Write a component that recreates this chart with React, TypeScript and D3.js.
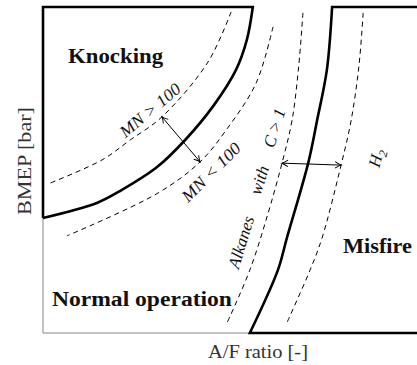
import React from "react";
import * as d3 from "d3";

// Operating-map boundaries, A/F ratio (x) vs BMEP (y), both in arbitrary units 0..10
const knockX = [5.61, 5.45, 5.16, 4.57, 3.8, 3.05, 2.11, 1.44, 0.0];
const knockY = [10.0, 8.99, 8.07, 6.99, 5.92, 5.09, 4.39, 3.99, 3.53];

const mnHighX = [5.03, 4.41, 3.18, 2.33, 1.58, 0.13];
const mnHighY = [9.85, 8.31, 6.63, 5.92, 5.31, 4.57];

const mnLowX = [6.15, 5.70, 4.90, 4.20, 3.07, 0.64];
const mnLowY = [9.39, 7.67, 6.23, 5.25, 4.29, 2.98];

const alkX = [6.95, 6.84, 6.66, 6.39, 6.02, 5.53, 4.92];
const alkY = [9.82, 8.22, 6.53, 5.21, 3.68, 1.93, 0.31];

const misX = [7.73, 7.59, 7.33, 7.09, 6.52, 6.28, 5.53];
const misY = [10.0, 8.07, 6.53, 5.21, 2.91, 1.93, 0.0];

const h2X = [8.56, 8.45, 8.24, 7.97, 7.46, 7.14, 6.52];
const h2Y = [9.82, 8.22, 6.53, 5.15, 2.91, 1.93, 0.31];

// Double arrows: [x1, y1, x2, y2]
const mnArrow = [3.18, 6.63, 4.2, 5.25];
const fuelArrow = [6.39, 5.21, 7.97, 5.15];

const regionLabels = ["Knocking", "Normal operation", "Misfire"];
const regionX = [0.67, 0.24, 8.02];
const regionY = [8.28, 0.83, 2.45];
const regionLen = [95, 180, 69];

const W = 417;
const H = 365;
const left = 43;
const top = 7;
const bottom = 333;

const x = d3.scaleLinear().domain([0, 10]).range([left, left + 374]);
const y = d3.scaleLinear().domain([0, 10]).range([bottom, top]);

const zip = (xs: number[], ys: number[]) => xs.map((v, i) => [v, ys[i]] as [number, number]);

const curve = d3
  .line<[number, number]>()
  .x((d) => x(d[0]))
  .y((d) => y(d[1]))
  .curve(d3.curveCatmullRom.alpha(0.5));

const serif = "'Liberation Serif', 'Times New Roman', serif";

export default function App() {
  const knockPts = zip(knockX, knockY);
  const misPts = zip(misX, misY);

  // Knocking region: left edge, top edge, then the boundary curve back down
  const knockPath =
    `M${x(0)},${y(knockY[knockY.length - 1])} L${x(0)},${y(10)} L${x(knockX[0])},${y(10)} ` +
    (curve(knockPts) || "").replace(/^M/, "L");

  // Misfire region: top edge from the right, boundary curve, bottom edge to the right
  const misPath =
    `M${W},${y(10)} L${x(misX[0])},${y(10)} ` +
    (curve(misPts) || "").replace(/^M/, "L") +
    ` L${W},${y(0)}`;

  const dashed = [zip(mnHighX, mnHighY), zip(mnLowX, mnLowY), zip(alkX, alkY), zip(h2X, h2Y)];

  const arrow = (a: number[], key: string) => (
    <line
      key={key}
      x1={x(a[0])}
      y1={y(a[1])}
      x2={x(a[2])}
      y2={y(a[3])}
      stroke="#000"
      strokeWidth={1}
      markerStart="url(#head)"
      markerEnd="url(#head)"
    />
  );

  return (
    <svg
      width={W}
      height={H}
      style={{ position: "absolute", left: 0, top: 0, background: "#fff" }}
    >
      <defs>
        <marker
          id="head"
          viewBox="-8 -5 10 10"
          refX={0}
          refY={0}
          markerWidth={10}
          markerHeight={10}
          markerUnits="userSpaceOnUse"
          orient="auto-start-reverse"
        >
          <path d="M-6,-3.2 Q-2,-0.6 0,0 Q-2,0.6 -6,3.2" fill="none" stroke="#000" strokeWidth={1} />
        </marker>
      </defs>

      {/* axes */}
      <line x1={left} y1={top} x2={left} y2={bottom} stroke="#999" strokeWidth={1.2} />
      <line x1={left} y1={bottom} x2={W} y2={bottom} stroke="#888" strokeWidth={1.2} />

      {/* dashed boundaries */}
      {dashed.map((pts, i) => (
        <path
          key={i}
          d={curve(pts) || ""}
          fill="none"
          stroke="#000"
          strokeWidth={1}
          strokeDasharray="5,4"
        />
      ))}

      {/* region boundaries */}
      <path d={knockPath} fill="none" stroke="#000" strokeWidth={2.6} strokeLinejoin="miter" />
      <path d={misPath} fill="none" stroke="#000" strokeWidth={2.6} strokeLinejoin="miter" />

      {arrow(mnArrow, "mn")}
      {arrow(fuelArrow, "fuel")}

      {/* region names */}
      {regionLabels.map((t, i) => (
        <text
          key={t}
          x={x(regionX[i])}
          y={y(regionY[i])}
          fontFamily={serif}
          fontWeight="bold"
          fontSize={20}
          textLength={regionLen[i]}
          lengthAdjust="spacingAndGlyphs"
          fill="#111"
        >
          {t}
        </text>
      ))}

      {/* curve annotations */}
      <g fontFamily={serif} fontStyle="italic" fontSize={17} fill="#111">
        <text
          transform={`translate(${x(2.86)},${y(6.84)}) rotate(-40)`}
          textAnchor="middle"
          dy="0.35em"
          textLength={74}
          lengthAdjust="spacingAndGlyphs"
        >
          MN &gt; 100
        </text>
        <text
          transform={`translate(${x(4.49)},${y(4.94)}) rotate(-45)`}
          textAnchor="middle"
          dy="0.35em"
          textLength={76}
          lengthAdjust="spacingAndGlyphs"
        >
          MN &lt; 100
        </text>
        <text transform={`translate(${x(5.29)},${y(2.79)}) rotate(-73)`} textAnchor="middle" dy="0.35em">
          Alkanes
        </text>
        <text transform={`translate(${x(5.78)},${y(4.69)}) rotate(-73)`} textAnchor="middle" dy="0.35em">
          with
        </text>
        <text transform={`translate(${x(6.18)},${y(6.29)}) rotate(-73)`} textAnchor="middle" dy="0.35em">
          C &gt; 1
        </text>
        <text transform={`translate(${x(8.9)},${y(5.37)}) rotate(-75)`} textAnchor="middle" dy="0.35em">
          H<tspan fontSize={12} dy="4">2</tspan>
        </text>
      </g>

      {/* axis titles */}
      <text
        x={258}
        y={358}
        textAnchor="middle"
        fontFamily={serif}
        fontSize={19}
        textLength={100}
        lengthAdjust="spacingAndGlyphs"
        fill="#333"
      >
        A/F ratio [-]
      </text>
      <text
        transform="translate(31,161) rotate(-90)"
        textAnchor="middle"
        fontFamily={serif}
        fontSize={19}
        textLength={108}
        lengthAdjust="spacingAndGlyphs"
        fill="#333"
      >
        BMEP [bar]
      </text>
    </svg>
  );
}
